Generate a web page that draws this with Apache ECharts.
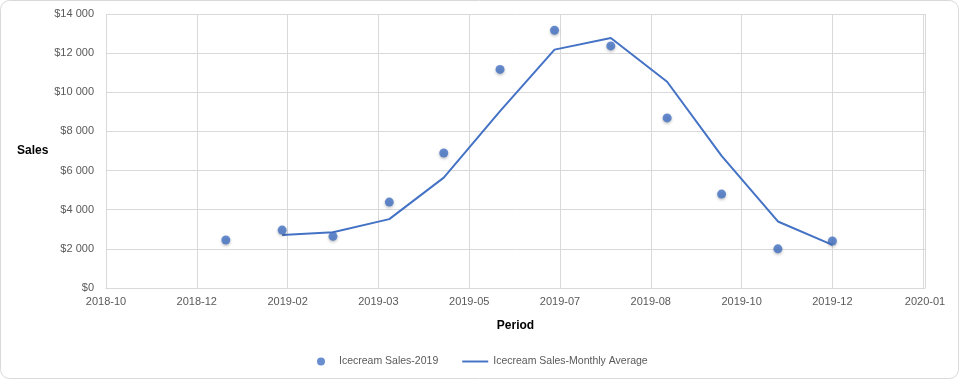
<!DOCTYPE html>
<html>
<head>
<meta charset="utf-8">
<script src="https://cdn.jsdelivr.net/npm/echarts@6/dist/echarts.min.js"></script>
<style>
html,body{margin:0;padding:0;background:#fff;}
#chart{width:960px;height:380px;}
</style>
</head>
<body>
<div id="chart"></div>
<script>
// Monthly sales points (dates as recorded)
var salesDates = ['2019-01-01','2019-02-01','2019-03-01','2019-04-01','2019-05-01','2019-06-01',
                  '2019-07-01','2019-08-01','2019-09-01','2019-10-01','2019-11-01','2019-12-01'];
var salesValues = [2450, 2960, 2640, 4390, 6900, 11170, 13170, 12370, 8690, 4800, 2000, 2400];

// Monthly average trend line
var avgDates = ['2019-02-01','2019-03-01','2019-04-01','2019-05-01','2019-06-01',
                '2019-07-01','2019-08-01','2019-09-01','2019-10-01','2019-11-01','2019-12-01'];
var avgValues = [2710, 2850, 3520, 5640, 9040, 12180, 12770, 10540, 6750, 3400, 2200];

var seriesNames = ['Icecream Sales-2019', 'Icecream Sales-Monthly Average'];

// Axis range as spreadsheet date serials
var xMinDate = '2018-10-27';
var xMaxDate = '2020-01-21';
var xStepDays = 50;
var yMin = 0, yMax = 14000, yStep = 2000;

function toSerial(s) {
  var p = s.split('-');
  return Math.round(Date.UTC(+p[0], +p[1] - 1, +p[2]) / 86400000) + 25569;
}
function serialLabel(v) {
  var d = new Date((v - 25569) * 86400000);
  var m = d.getUTCMonth() + 1;
  return d.getUTCFullYear() + '-' + (m < 10 ? '0' + m : m);
}
function money(v) {
  var s = String(Math.round(v)).replace(/\B(?=(\d{3})+(?!\d))/g, ' ');
  return '$' + s;
}

var scatterData = salesDates.map(function (d, i) { return [toSerial(d), salesValues[i]]; });
var lineData = avgDates.map(function (d, i) { return [toSerial(d), avgValues[i]]; });

var blue = '#4472C4';
var grey = '#d9d9d9';
var labelColor = '#595959';
var font = '"Liberation Sans", Arial, sans-serif';

var chart = echarts.init(document.getElementById('chart'), null, {renderer: 'canvas'});
chart.setOption({
  animation: false,
  backgroundColor: '#fff',
  textStyle: {fontFamily: font},
  graphic: [{
    type: 'rect',
    shape: {x: 0.5, y: 0.5, width: 958, height: 378, r: 9},
    style: {fill: 'none', stroke: grey, lineWidth: 1},
    silent: true,
    z: -1
  }],
  grid: {left: 106, right: 35, top: 14, bottom: 92, containLabel: false},
  legend: {
    bottom: 8,
    left: 312,
    data: [
      {name: seriesNames[0], icon: 'circle'},
      {name: seriesNames[1], icon: 'path://M0,0H27V2H0Z'}
    ],
    itemWidth: 26,
    itemHeight: 8,
    itemGap: 24,
    textStyle: {color: labelColor, fontSize: 10.5, fontFamily: font}
  },
  xAxis: {
    type: 'value',
    min: toSerial(xMinDate),
    max: toSerial(xMaxDate),
    interval: xStepDays,
    name: 'Period',
    nameLocation: 'middle',
    nameGap: 32,
    nameTextStyle: {color: '#000', fontSize: 12, fontWeight: 'bold', fontFamily: font},
    axisLine: {show: true, lineStyle: {color: grey, width: 1}},
    axisTick: {show: false},
    axisLabel: {color: labelColor, fontSize: 11, margin: 8, formatter: serialLabel, showMinLabel: true, showMaxLabel: true},
    splitLine: {show: true, lineStyle: {color: grey, width: 1}}
  },
  yAxis: {
    type: 'value',
    min: yMin,
    max: yMax,
    interval: yStep,
    name: 'Sales',
    nameLocation: 'middle',
    nameRotate: 0,
    nameGap: 56,
    nameTextStyle: {color: '#000', fontSize: 12, fontWeight: 'bold', fontFamily: font, padding: [4, 0, 0, 0]},
    axisLine: {show: false},
    axisTick: {show: false},
    axisLabel: {color: labelColor, fontSize: 11, margin: 12, formatter: money},
    splitLine: {show: true, lineStyle: {color: grey, width: 1}}
  },
  series: [{
    name: seriesNames[1],
    type: 'line',
    data: lineData,
    symbol: 'none',
    lineStyle: {color: blue, width: 2},
    itemStyle: {color: blue},
    z: 2
  }, {
    name: seriesNames[0],
    type: 'scatter',
    data: scatterData,
    symbol: 'circle',
    symbolSize: 9,
    itemStyle: {color: blue, shadowBlur: 3, shadowColor: 'rgba(0,0,0,0.3)', shadowOffsetY: 1.5},
    z: 3
  }]
});
</script>
</body>
</html>
